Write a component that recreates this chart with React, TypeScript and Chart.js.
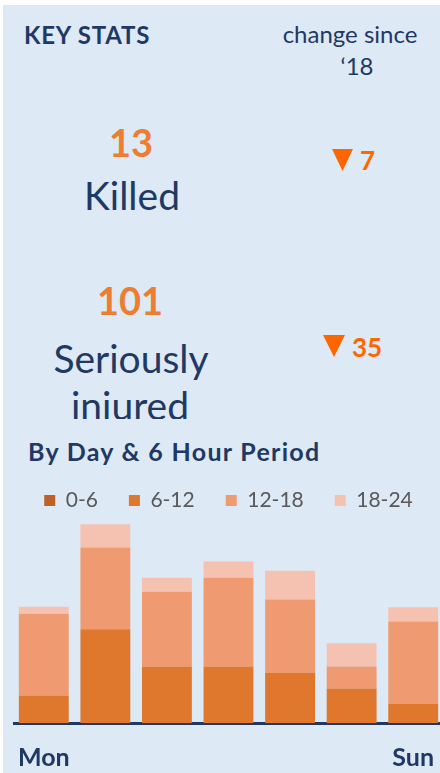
import React, { useEffect, useRef } from "react";
import { Chart, registerables } from "chart.js";

Chart.register(...registerables);

const days = ["Mon", "Tue", "Wed", "Thu", "Fri", "Sat", "Sun"];
const periodLabels = ["0-6", "6-12", "12-18", "18-24"];
const p0to6 = [0, 0, 0, 0, 0, 0, 0];
const p6to12 = [3.9, 13.3, 8.0, 8.0, 7.1, 4.9, 2.7];
const p12to18 = [11.6, 11.6, 10.6, 12.6, 10.4, 3.1, 11.7];
const p18to24 = [1.0, 3.3, 2.0, 2.3, 4.1, 3.3, 2.0];
const periodColors = ["#BE6128", "#DF772D", "#F09A72", "#F5C2B1"];
const shownTicks = ["Mon", "Sun"];

const killed = 13;
const killedChange = 7;
const injured = 101;
const injuredChange = 35;

const NAVY = "#1F3864";
const ORANGE = "#ED7D31";
const BRIGHT = "#FF6600";
const FONT = "Lato, 'Open Sans', sans-serif";

function T(props: { x: number; y: number; size: number; bold?: boolean; color: string; anchor?: string; ls?: number; clip?: string; children: React.ReactNode; }) {
  return (
    <text
      x={props.x}
      y={props.y}
      fontFamily={FONT}
      fontSize={props.size}
      fontWeight={props.bold ? 700 : 400}
      fill={props.color}
      textAnchor={props.anchor || "start"}
      letterSpacing={props.ls || 0}
      clipPath={props.clip}
    >
      {props.children}
    </text>
  );
}

export default function App() {
  const ref = useRef<HTMLCanvasElement | null>(null);

  useEffect(() => {
    if (!ref.current) return;
    const series = [p0to6, p6to12, p12to18, p18to24];
    const chart = new Chart(ref.current, {
      type: "bar",
      data: {
        labels: days,
        datasets: series.map((d, i) => ({
          label: periodLabels[i],
          data: d,
          backgroundColor: periodColors[i],
          borderWidth: 0,
          categoryPercentage: 1,
          barPercentage: 0.81,
        })),
      },
      options: {
        animation: false,
        responsive: false,
        maintainAspectRatio: false,
        layout: { padding: 0 },
        plugins: {
          tooltip: { enabled: false },
          legend: {
            position: "top",
            maxHeight: 59,
            labels: {
              boxWidth: 11,
              boxHeight: 11,
              padding: 31,
              color: "#595959",
              font: { family: FONT, size: 21 },
            },
          },
        },
        scales: {
          x: {
            stacked: true,
            grid: { display: false, drawTicks: false },
            border: { display: true, color: NAVY, width: 3 },
            ticks: {
              autoSkip: false,
              maxRotation: 0,
              padding: 0,
              color: NAVY,
              font: { family: FONT, size: 25, weight: "bold", lineHeight: 2.8 },
              callback: function (_v: any, i: number) {
                const l = days[i];
                return shownTicks.includes(l) ? l : "";
              },
            },
          },
          y: {
            stacked: true,
            display: false,
            min: 0,
            max: 29.07,
          },
        },
      },
    } as any);
    return () => chart.destroy();
  }, []);

  return (
    <div style={{ position: "fixed", left: 0, top: 0, width: 440, height: 773, overflow: "hidden", background: "#FFFFFF" }}>
      <div style={{ position: "absolute", left: 3, top: 5, width: 437, height: 768, background: "#DDE9F5" }} />
      <svg width={440} height={773} style={{ position: "absolute", left: 0, top: 0 }}>
        <defs>
          <clipPath id="injclip">
            <rect x={0} y={370} width={300} height={49} />
          </clipPath>
        </defs>
        <T x={24} y={44} size={24} bold color={NAVY} ls={0.8}>KEY STATS</T>
        <T x={350} y={43} size={24} color={NAVY} anchor="middle">change since</T>
        <T x={357} y={75} size={24} color={NAVY} anchor="middle">‘18</T>

        <T x={131} y={157} size={38} bold color={ORANGE} anchor="middle">{killed}</T>
        <T x={132} y={210} size={39} color={NAVY} anchor="middle">Killed</T>
        <polygon points="332,149 353,149 342.5,171" fill={BRIGHT} />
        <T x={360} y={170} size={26} bold color={BRIGHT}>{killedChange}</T>

        <T x={130} y={315} size={38} bold color={ORANGE} anchor="middle">{injured}</T>
        <T x={131} y={373} size={39} color={NAVY} anchor="middle">Seriously</T>
        <T x={130} y={420} size={39} color={NAVY} anchor="middle" clip="url(#injclip)">injured</T>
        <polygon points="323,335 345,335 334,357" fill={BRIGHT} />
        <T x={352} y={357} size={26} bold color={BRIGHT}>{injuredChange}</T>

        <T x={28} y={461} size={25} bold color={NAVY} ls={1.3}>By Day &amp; 6 Hour Period</T>
      </svg>
      <canvas ref={ref} width={431} height={334} style={{ position: "absolute", left: 13, top: 459, width: 431, height: 334 }} />
    </div>
  );
}
